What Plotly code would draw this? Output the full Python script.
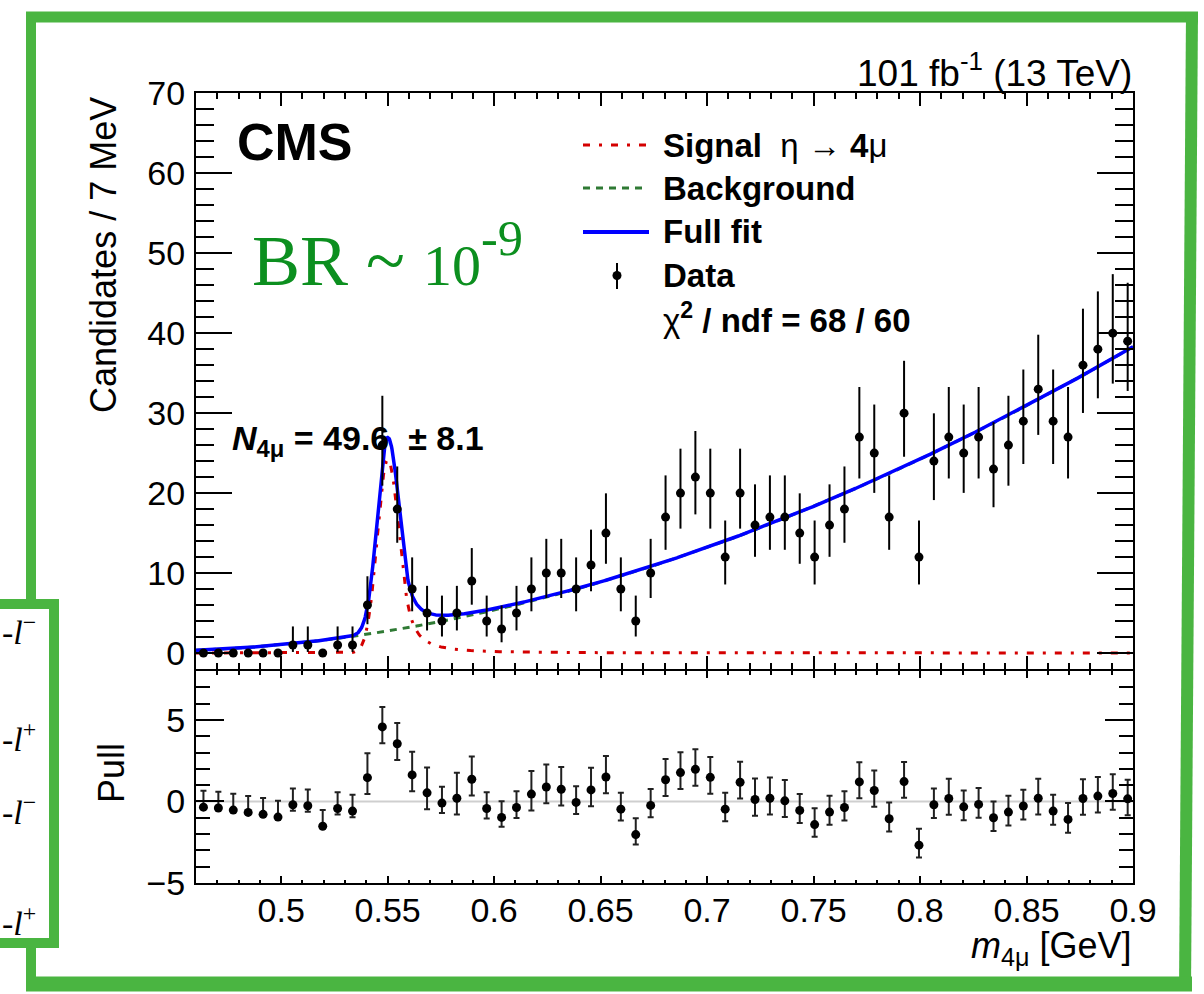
import numpy as np
import plotly.graph_objects as go

W, H = 1204, 994

# ---- four-muon invariant mass histogram (7 MeV bins from 0.46 GeV) ----
bin_start = 0.46
bin_width = 0.007
counts = [0, 0, 0, 0, 0, 0, 1, 1, 0, 1,
          1, 6, 26, 18, 8, 5, 4, 5, 9, 4,
          3, 5, 8, 10, 10, 8, 11, 15, 8, 4,
          10, 17, 20, 22, 20, 12, 20, 16, 17, 17,
          15, 12, 16, 18, 27, 25, 17, 30, 12, 24,
          27, 25, 27, 23, 26, 29, 33, 29, 27, 36,
          38, 40, 39]
pulls = [-0.35, -0.40, -0.53, -0.67, -0.79, -0.96, -0.20, -0.26, -1.52, -0.43,
         -0.59, 1.46, 4.57, 3.54, 1.63, 0.53, -0.10, 0.20, 1.36, -0.43,
         -0.98, -0.37, 0.45, 0.89, 0.75, -0.06, 0.71, 1.50, -0.47, -2.03,
         -0.24, 1.33, 1.77, 1.97, 1.48, -0.47, 1.18, 0.12, 0.20, 0.04,
         -0.55, -1.42, -0.65, -0.37, 1.20, 0.67, -1.06, 1.22, -2.68, -0.20,
         0.18, -0.33, -0.18, -1.00, -0.65, -0.28, 0.20, -0.59, -1.10, 0.18,
         0.33, 0.49, 0.16]

# ---- fitted model parameters ----
sig_peak = 24.2          # candidates / bin at the eta peak
sig_mean = 0.550         # GeV
sig_sigma_left = 0.0048
sig_sigma_right = 0.0056
sig_alpha = 1.5          # tail starts at alpha * sigma on the high side
sig_n = 2.0
bkg_origin = 0.46
bkg_coeffs = [0.33, 10.1, 190.8, -40.0]   # polynomial in (m - bkg_origin)

mass_ticks = [0.5, 0.55, 0.6, 0.65, 0.7, 0.75, 0.8, 0.85, 0.9]
mass_tick_labels = ["0.5", "0.55", "0.6", "0.65", "0.7", "0.75", "0.8", "0.85", "0.9"]

# ---- derived quantities ----
n = np.array(counts, dtype=float)
centers = bin_start + bin_width * (np.arange(len(counts)) + 0.5)
err_hi = np.where(n > 0, 1.0 + np.sqrt(n + 0.75), 0.0)
err_lo = np.where(n > 0, np.sqrt(np.clip(n - 0.25, 0, None)), 0.0)

p = np.array(pulls)
safe_lo = np.where(err_lo > 0, err_lo, 1.0)
safe_hi = np.where(err_hi > 0, err_hi, 1.0)
pull_hi = np.where(p >= 0, err_hi / safe_lo, 1.0)
pull_lo = np.where(p >= 0, 1.0, err_lo / safe_hi)


def signal(m):
    sig = np.where(m < sig_mean, sig_sigma_left, sig_sigma_right)
    z = (m - sig_mean) / sig
    core = np.exp(-0.5 * z ** 2)
    a = (sig_n / sig_alpha) ** sig_n * np.exp(-0.5 * sig_alpha ** 2)
    b = sig_n / sig_alpha - sig_alpha
    tail = a * np.power(np.clip(b + z, 1e-6, None), -sig_n)
    return sig_peak * np.where(z > sig_alpha, tail, core)


def background(m):
    t = m - bkg_origin
    return sum(c * t ** k for k, c in enumerate(bkg_coeffs))


m_grid = np.linspace(0.46, 0.9, 2000)
s_curve = signal(m_grid)
b_curve = background(m_grid)
f_curve = s_curve + b_curve

# ---- page geometry helpers (pixels -> paper) ----
def px(x):
    return x / W


def py(y):
    return 1 - y / H


X0, X1 = 196, 1133
Y_TOP, Y_MID, Y_BOT = 93.3, 669.0, 883

FONT = "Liberation Sans, Arial, Helvetica, sans-serif"
SERIF = "Liberation Serif, Times New Roman, serif"
GREEN_FRAME = "#4ab541"
GREEN_TEXT = "#0c8f1f"
RED = "#d40000"
DKGREEN = "#2f7a34"
BLUE = "#0000ff"

fig = go.Figure()

# fit components
fig.add_trace(go.Scatter(x=m_grid, y=s_curve, mode="lines", xaxis="x", yaxis="y",
                         line=dict(color=RED, width=3, dash="7px,9px,3px,9px"),
                         hoverinfo="skip", showlegend=False))
fig.add_trace(go.Scatter(x=m_grid, y=b_curve, mode="lines", xaxis="x", yaxis="y",
                         line=dict(color=DKGREEN, width=3, dash="7px,6px"),
                         hoverinfo="skip", showlegend=False))
fig.add_trace(go.Scatter(x=m_grid, y=f_curve, mode="lines", xaxis="x", yaxis="y",
                         line=dict(color=BLUE, width=3.5),
                         hoverinfo="skip", showlegend=False))

# data points with Poisson intervals
fig.add_trace(go.Scatter(x=centers, y=n, mode="markers", xaxis="x", yaxis="y",
                         marker=dict(color="black", size=9),
                         error_y=dict(type="data", symmetric=False, array=err_hi,
                                      arrayminus=err_lo, width=0, thickness=2,
                                      color="black"),
                         showlegend=False))

# pulls
fig.add_trace(go.Scatter(x=centers, y=p, mode="markers", xaxis="x2", yaxis="y2",
                         marker=dict(color="black", size=9),
                         error_y=dict(type="data", symmetric=False, array=pull_hi,
                                      arrayminus=pull_lo, width=3, thickness=2,
                                      color="#202020"),
                         showlegend=False))

axis_common = dict(showline=True, linecolor="black", linewidth=2, mirror="ticks",
                   ticks="inside", tickcolor="black", tickwidth=2,
                   showgrid=False, zeroline=False, automargin=False,
                   tickfont=dict(family=FONT, size=34, color="black"))

layout = dict(
    width=W, height=H,
    margin=dict(l=0, r=0, t=0, b=0, pad=0, autoexpand=False),
    paper_bgcolor="white", plot_bgcolor="white",
    showlegend=False,
    xaxis=dict(domain=[px(X0), px(X1)], range=[0.46, 0.9], anchor="y",
               tickvals=mass_ticks, showticklabels=False, ticklen=13,
               minor=dict(dtick=0.01, tick0=0.46, ticklen=6, ticks="inside",
                          tickcolor="black", tickwidth=1.5),
               **axis_common),
    yaxis=dict(domain=[py(Y_MID), py(Y_TOP)], range=[-2, 70], anchor="x",
               tick0=0, dtick=10, ticklen=36, ticklabelstandoff=2,
               minor=dict(dtick=2, tick0=0, ticklen=18, ticks="inside",
                          tickcolor="black", tickwidth=1.5),
               **axis_common),
    xaxis2=dict(domain=[px(X0), px(X1)], range=[0.46, 0.9], anchor="y2",
                tickvals=mass_ticks, ticktext=mass_tick_labels, ticklen=7,
                ticklabelstandoff=-4,
                minor=dict(dtick=0.01, tick0=0.46, ticklen=3.5, ticks="inside",
                           tickcolor="black", tickwidth=1.5),
                **axis_common),
    yaxis2=dict(domain=[py(Y_BOT), py(Y_MID + 2)], range=[-5, 8], anchor="x2",
                tick0=0, dtick=5, ticklen=28, ticklabelstandoff=2,
                minor=dict(dtick=1, tick0=0, ticklen=14, ticks="inside",
                           tickcolor="black", tickwidth=1.5),
                **axis_common),
)
fig.update_layout(**layout)

shapes = []
# reference line at zero pull
shapes.append(dict(type="line", xref="x2 domain", yref="y2", x0=0, x1=1, y0=0, y1=0,
                   line=dict(color="#cfcfcf", width=2), layer="below"))

# legend samples
shapes.append(dict(type="line", xref="paper", yref="paper",
                   x0=px(583), x1=px(646), y0=py(145), y1=py(145),
                   line=dict(color=RED, width=3, dash="7px,9px,3px,9px")))
shapes.append(dict(type="line", xref="paper", yref="paper",
                   x0=px(583), x1=px(646), y0=py(188), y1=py(188),
                   line=dict(color=DKGREEN, width=3, dash="7px,6px")))
shapes.append(dict(type="line", xref="paper", yref="paper",
                   x0=px(583), x1=px(649), y0=py(232), y1=py(232),
                   line=dict(color=BLUE, width=4)))
shapes.append(dict(type="line", xref="paper", yref="paper",
                   x0=px(617), x1=px(617), y0=py(263), y1=py(289),
                   line=dict(color="black", width=2)))
shapes.append(dict(type="circle", xref="paper", yref="paper",
                   x0=px(612.5), x1=px(621.5), y0=py(280), y1=py(271),
                   fillcolor="black", line=dict(color="black", width=0)))

# hand-drawn style green frame
frame = [((26, 17), (1198, 17), 11), ((1192, 12), (1185, 991), 12),
         ((26, 984), (1192, 984), 15), ((31, 12), (31, 991), 10)]
for (a, b, w) in frame:
    shapes.append(dict(type="line", xref="paper", yref="paper",
                       x0=px(a[0]), y0=py(a[1]), x1=px(b[0]), y1=py(b[1]),
                       line=dict(color=GREEN_FRAME, width=w)))
# overlapping side panel
shapes.append(dict(type="rect", xref="paper", yref="paper",
                   x0=px(-20), x1=px(54), y0=py(943), y1=py(604),
                   fillcolor="white", line=dict(color=GREEN_FRAME, width=10)))
fig.update_layout(shapes=shapes)

ann = []


def text(x, y, s, size, xanchor="left", yanchor="middle", family=FONT,
         color="black", angle=0):
    ann.append(dict(xref="paper", yref="paper", x=px(x), y=py(y), text=s,
                    showarrow=False, xanchor=xanchor, yanchor=yanchor,
                    textangle=angle,
                    font=dict(family=family, size=size, color=color)))


text(1134, 71, "101 fb<sup>-1</sup> (13 TeV)", 37, xanchor="right")
text(235, 142, "<b>CMS</b>", 52)
text(250, 255, "BR ~ <span style='font-size:58px'>10</span><sup>-9</sup>", 72,
     family=SERIF, color=GREEN_TEXT)
text(230, 440, "<b><i>N</i><sub>4μ</sub> = 49.6  ± 8.1</b>", 34)

text(661, 145, "<b>Signal</b>  η → <b>4</b>μ", 33)
text(661, 188, "<b>Background</b>", 33)
text(661, 232, "<b>Full fit</b>", 33)
text(661, 275, "<b>Data</b>", 33)
text(661, 318, "χ<sup><b>2</b></sup><b> / ndf = 68 / 60</b>", 33)

text(103, 95, "Candidates / 7 MeV", 36, xanchor="center", yanchor="top", angle=-90)
text(111, 773, "Pull", 36, xanchor="center", angle=-90)
text(1134, 948, "<i>m</i><sub>4μ</sub> [GeV]", 36, xanchor="right")

# lepton labels of the neighbouring diagram panel
for yy, sign in [(630, "−"), (737, "+"), (810, "−"), (921, "+")]:
    text(0, yy, "-<i>l</i><sup>" + sign + "</sup>", 34, family=SERIF)

fig.update_layout(annotations=ann)

fig.write_html("out.html")
